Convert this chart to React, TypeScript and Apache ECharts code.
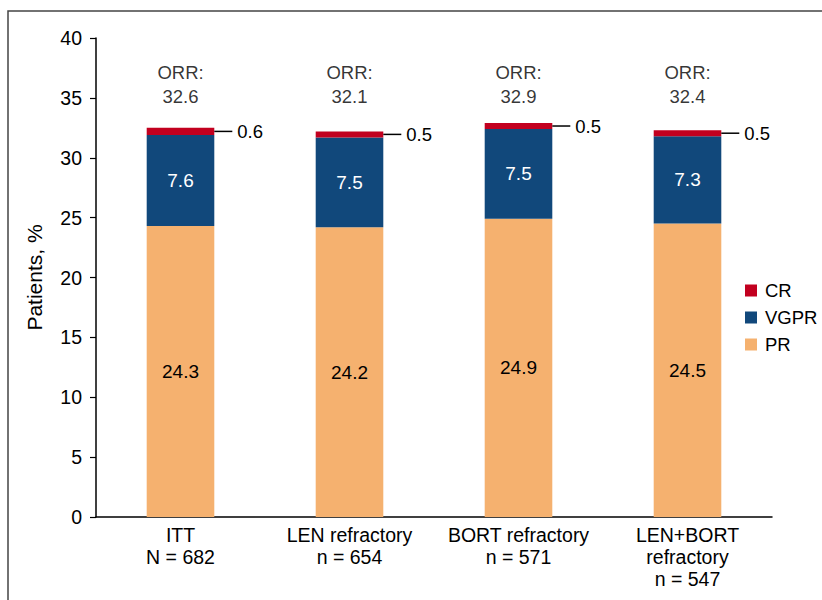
import React, { useEffect, useRef } from "react";
import * as echarts from "echarts";

const categories = ["ITT\nN = 682", "LEN refractory\nn = 654", "BORT refractory\nn = 571", "LEN+BORT\nrefractory\nn = 547"];
const prValues = [24.3, 24.2, 24.9, 24.5];
const vgprValues = [7.6, 7.5, 7.5, 7.3];
const crValues = [0.6, 0.5, 0.5, 0.5];
const orrValues = [32.6, 32.1, 32.9, 32.4];
const yTicks = [0, 5, 10, 15, 20, 25, 30, 35, 40];

const ORR_LABEL_Y = 36.1;
const REG = '"Liberation Sans", Arial, Helvetica, sans-serif';
const INK = "#000";

export default function App() {
  const ref = useRef<HTMLDivElement>(null);
  useEffect(() => {
    if (!ref.current) return;
    const chart = echarts.init(ref.current, undefined, { renderer: "svg" });
    chart.setOption({
      animation: false,
      backgroundColor: "#fff",
      grid: { left: 96, right: 50, top: 38, bottom: 83, containLabel: false },
      legend: {
        orient: "vertical",
        left: 740,
        top: 276,
        itemWidth: 12,
        itemHeight: 12,
        itemGap: 8,
        icon: "rect",
        textStyle: { fontSize: 18.5, color: INK, fontFamily: REG, padding: [0, 0, 0, 3] },
        data: ["CR", "VGPR", "PR"],
      },
      graphic: [
        {
          type: "rect",
          shape: { x: 8, y: 11, width: 900, height: 700 },
          style: { fill: "none", stroke: "#444", lineWidth: 1.5 },
          silent: true,
        },
      ],
      xAxis: {
        type: "category",
        data: categories,
        axisLine: { lineStyle: { color: INK, width: 1.5 } },
        axisTick: { show: false },
        axisLabel: {
          fontSize: 19.5,
          color: INK,
          fontFamily: REG,
          lineHeight: 22,
          margin: 7,
          interval: 0,
        },
      },
      yAxis: {
        type: "value",
        min: yTicks[0],
        max: yTicks[yTicks.length - 1],
        interval: 5,
        name: "Patients, %",
        nameLocation: "middle",
        nameGap: 51,
        nameTextStyle: { fontSize: 21, color: INK, fontFamily: REG },
        axisLine: { show: true, lineStyle: { color: INK, width: 1.5 } },
        axisTick: { show: true, length: 6, lineStyle: { color: INK, width: 1.2 } },
        splitLine: { show: false },
        axisLabel: { fontSize: 19.5, color: INK, fontFamily: REG, margin: 14 },
      },
      series: [
        {
          name: "PR",
          type: "bar",
          stack: "r",
          barWidth: "40%",
          itemStyle: { color: "#F5B16F" },
          data: prValues,
          label: { show: true, position: "inside", color: INK, fontSize: 19, fontFamily: REG },
        },
        {
          name: "VGPR",
          type: "bar",
          stack: "r",
          itemStyle: { color: "#11487B" },
          data: vgprValues,
          label: { show: true, position: "inside", color: "#fff", fontSize: 19, fontFamily: REG },
        },
        {
          name: "CR",
          type: "bar",
          stack: "r",
          itemStyle: { color: "#C2001F" },
          data: crValues,
          label: {
            show: true,
            position: "right",
            distance: 0,
            formatter: (p: any) => "{l| }{v|" + p.value + "}",
            rich: {
              l: { width: 18, height: 1.5, backgroundColor: INK, align: "left" },
              v: { fontSize: 18.5, color: INK, fontFamily: REG, padding: [0, 0, 0, 5] },
            },
          },
        },
        {
          name: "ORR",
          type: "scatter",
          symbolSize: 0,
          silent: true,
          data: orrValues.map((v) => ({ value: ORR_LABEL_Y, orr: v })),
          label: {
            show: true,
            position: "inside",
            formatter: (p: any) => "ORR:\n" + p.data.orr,
            fontSize: 18.5,
            lineHeight: 24,
            color: INK,
            fontFamily: REG,
          },
        },
      ],
    });
    return () => chart.dispose();
  }, []);
  return <div ref={ref} style={{ position: "absolute", left: 0, top: 0, width: 822, height: 600 }} />;
}
